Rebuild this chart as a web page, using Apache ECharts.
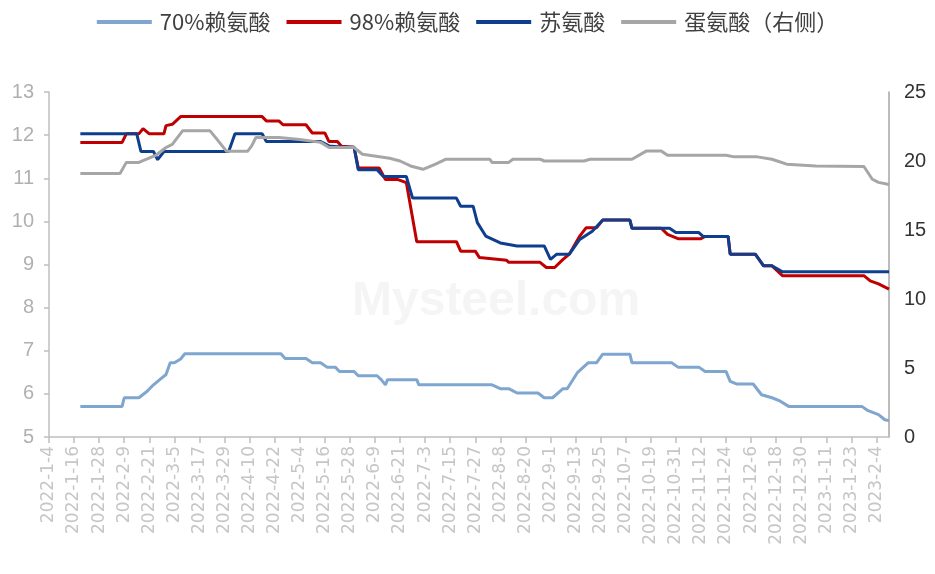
<!DOCTYPE html>
<html>
<head>
<meta charset="utf-8">
<script src="https://cdn.jsdelivr.net/npm/echarts@6/dist/echarts.min.js"></script>
<style>
html,body{margin:0;padding:0;background:#fff;}
#chart{width:935px;height:574px;}
</style>
</head>
<body>
<div id="chart"></div>
<script>
// Category axis: daily dates from 2022-1-4 to 2023-2-10
const startDate = [2022, 1, 4];
const endDate = [2023, 2, 10];
const categories = [];
(function () {
  let t = Date.UTC(startDate[0], startDate[1] - 1, startDate[2]);
  const e = Date.UTC(endDate[0], endDate[1] - 1, endDate[2]);
  while (t <= e) {
    const d = new Date(t);
    categories.push(d.getUTCFullYear() + '-' + (d.getUTCMonth() + 1) + '-' + d.getUTCDate());
    t += 86400000;
  }
})();

const seriesNames = ['70%赖氨酸', '98%赖氨酸', '苏氨酸', '蛋氨酸（右侧）'];
const leftTicks = [5, 13, 1];   // min, max, interval
const rightTicks = [0, 25, 5];

const lys70 = [
  ['2022-1-19', 5.71], ['2022-2-8', 5.71], ['2022-2-9', 5.91], ['2022-2-16', 5.91],
  ['2022-2-20', 6.06], ['2022-2-23', 6.21], ['2022-2-26', 6.33], ['2022-3-1', 6.45],
  ['2022-3-3', 6.72], ['2022-3-5', 6.72], ['2022-3-8', 6.81], ['2022-3-10', 6.93],
  ['2022-4-25', 6.93], ['2022-4-27', 6.82], ['2022-5-7', 6.82], ['2022-5-10', 6.72],
  ['2022-5-14', 6.72], ['2022-5-17', 6.62], ['2022-5-21', 6.62], ['2022-5-23', 6.52],
  ['2022-5-30', 6.52], ['2022-6-1', 6.42], ['2022-6-10', 6.42], ['2022-6-12', 6.33],
  ['2022-6-14', 6.21], ['2022-6-15', 6.33], ['2022-6-29', 6.33], ['2022-6-30', 6.21],
  ['2022-8-4', 6.21], ['2022-8-8', 6.12], ['2022-8-12', 6.12], ['2022-8-16', 6.02],
  ['2022-8-26', 6.02], ['2022-8-29', 5.91], ['2022-9-2', 5.91], ['2022-9-7', 6.12],
  ['2022-9-9', 6.12], ['2022-9-14', 6.5], ['2022-9-19', 6.72], ['2022-9-23', 6.72],
  ['2022-9-26', 6.92], ['2022-10-9', 6.92], ['2022-10-10', 6.72], ['2022-10-29', 6.72],
  ['2022-11-1', 6.62], ['2022-11-11', 6.62], ['2022-11-14', 6.52], ['2022-11-24', 6.52],
  ['2022-11-26', 6.29], ['2022-11-29', 6.23], ['2022-12-7', 6.23], ['2022-12-11', 5.98],
  ['2022-12-16', 5.91], ['2022-12-20', 5.83], ['2022-12-24', 5.71], ['2023-1-28', 5.71],
  ['2023-1-31', 5.61], ['2023-2-5', 5.52], ['2023-2-8', 5.4], ['2023-2-10', 5.38]
];

const lys98 = [
  ['2022-1-19', 11.83], ['2022-2-8', 11.83], ['2022-2-10', 12.03], ['2022-2-16', 12.03],
  ['2022-2-18', 12.15], ['2022-2-21', 12.03], ['2022-2-28', 12.03], ['2022-3-1', 12.22],
  ['2022-3-4', 12.25], ['2022-3-8', 12.43], ['2022-4-16', 12.43], ['2022-4-18', 12.33],
  ['2022-4-24', 12.33], ['2022-4-26', 12.24], ['2022-5-7', 12.24], ['2022-5-10', 12.05],
  ['2022-5-16', 12.05], ['2022-5-18', 11.85], ['2022-5-22', 11.85], ['2022-5-24', 11.74],
  ['2022-5-30', 11.72], ['2022-6-1', 11.24], ['2022-6-11', 11.24], ['2022-6-14', 10.97],
  ['2022-6-20', 10.97], ['2022-6-24', 10.9], ['2022-6-29', 9.53], ['2022-7-18', 9.53],
  ['2022-7-20', 9.31], ['2022-7-27', 9.31], ['2022-7-29', 9.16], ['2022-8-11', 9.1],
  ['2022-8-12', 9.05], ['2022-8-27', 9.05], ['2022-8-30', 8.93], ['2022-9-3', 8.93],
  ['2022-9-7', 9.12], ['2022-9-10', 9.24], ['2022-9-15', 9.66], ['2022-9-18', 9.85],
  ['2022-9-23', 9.85], ['2022-9-26', 10.03], ['2022-10-9', 10.03], ['2022-10-10', 9.84],
  ['2022-10-24', 9.84], ['2022-10-27', 9.7], ['2022-11-1', 9.6], ['2022-11-12', 9.6],
  ['2022-11-14', 9.65], ['2022-11-25', 9.65], ['2022-11-26', 9.24], ['2022-12-8', 9.24],
  ['2022-12-12', 8.97], ['2022-12-16', 8.97], ['2022-12-21', 8.74], ['2023-1-29', 8.74],
  ['2023-2-1', 8.62], ['2023-2-5', 8.55], ['2023-2-10', 8.43]
];

const threonine = [
  ['2022-1-19', 12.03], ['2022-2-15', 12.03], ['2022-2-17', 11.62], ['2022-2-23', 11.62],
  ['2022-2-25', 11.43], ['2022-2-28', 11.62], ['2022-3-31', 11.62], ['2022-4-3', 12.03],
  ['2022-4-16', 12.03], ['2022-4-18', 11.85], ['2022-5-14', 11.85], ['2022-5-18', 11.75],
  ['2022-5-25', 11.72], ['2022-5-30', 11.72], ['2022-6-1', 11.2], ['2022-6-10', 11.2],
  ['2022-6-13', 11.04], ['2022-6-24', 11.04], ['2022-6-27', 10.54], ['2022-7-18', 10.54],
  ['2022-7-20', 10.35], ['2022-7-26', 10.35], ['2022-7-28', 9.97], ['2022-8-1', 9.66],
  ['2022-8-8', 9.5], ['2022-8-16', 9.43], ['2022-8-29', 9.43], ['2022-9-1', 9.12],
  ['2022-9-4', 9.24], ['2022-9-10', 9.24], ['2022-9-15', 9.58], ['2022-9-21', 9.77],
  ['2022-9-26', 10.03], ['2022-10-9', 10.03], ['2022-10-10', 9.84], ['2022-10-28', 9.84],
  ['2022-10-31', 9.74], ['2022-11-11', 9.74], ['2022-11-13', 9.65], ['2022-11-25', 9.65],
  ['2022-11-26', 9.24], ['2022-12-8', 9.24], ['2022-12-12', 8.97], ['2022-12-16', 8.97],
  ['2022-12-21', 8.83], ['2023-2-10', 8.83]
];

const methionine = [
  ['2022-1-19', 19.09], ['2022-2-7', 19.09], ['2022-2-10', 19.9], ['2022-2-16', 19.9],
  ['2022-2-24', 20.4], ['2022-3-1', 20.98], ['2022-3-4', 21.2], ['2022-3-9', 22.2],
  ['2022-3-22', 22.2], ['2022-3-26', 21.46], ['2022-3-30', 20.7], ['2022-4-9', 20.7],
  ['2022-4-11', 21.1], ['2022-4-13', 21.7], ['2022-4-24', 21.7], ['2022-5-4', 21.55],
  ['2022-5-14', 21.35], ['2022-5-18', 20.98], ['2022-5-30', 20.98], ['2022-6-3', 20.49],
  ['2022-6-16', 20.2], ['2022-6-21', 20.0], ['2022-6-26', 19.64], ['2022-7-2', 19.4],
  ['2022-7-8', 19.77], ['2022-7-13', 20.13], ['2022-8-3', 20.13], ['2022-8-4', 19.9],
  ['2022-8-12', 19.9], ['2022-8-14', 20.13], ['2022-8-27', 20.13], ['2022-8-29', 20.0],
  ['2022-9-17', 20.0], ['2022-9-20', 20.13], ['2022-10-10', 20.13], ['2022-10-17', 20.73],
  ['2022-10-24', 20.73], ['2022-10-27', 20.42], ['2022-11-24', 20.42], ['2022-11-28', 20.3],
  ['2022-12-9', 20.3], ['2022-12-16', 20.13], ['2022-12-23', 19.77], ['2023-1-6', 19.64],
  ['2023-1-29', 19.6], ['2023-2-2', 18.68], ['2023-2-5', 18.45], ['2023-2-10', 18.3]
];

const colors = ['#7FA6CF', '#C00000', '#0E3F8E', '#A6A6A6'];

const chart = echarts.init(document.getElementById('chart'));
const lineSeries = (name, data, color, yAxisIndex) => ({
  name: name,
  type: 'line',
  data: data,
  yAxisIndex: yAxisIndex,
  showSymbol: false,
  symbol: 'none',
  lineStyle: { width: 3, color: color },
  itemStyle: { color: color },
  emphasis: { disabled: true },
  animation: false
});

chart.setOption({
  animation: false,
  backgroundColor: '#fff',
  legend: {
    top: 6,
    left: 'center',
    icon: 'rect',
    itemWidth: 55,
    itemHeight: 4,
    itemGap: 16,
    textStyle: { fontFamily: 'Noto Sans CJK SC', fontSize: 22, color: '#404040', padding: [0, 0, 0, 3] },
    data: seriesNames
  },
  graphic: [{
    type: 'text',
    left: 352,
    top: 278,
    z: -1,
    style: { text: 'Mysteel.com', font: 'bold 48px Liberation Sans', fill: '#f5f5f5' }
  }],
  grid: { left: 49, right: 46, top: 92, bottom: 137, containLabel: false },
  xAxis: {
    type: 'category',
    data: categories,
    boundaryGap: false,
    axisLine: { lineStyle: { color: '#bfbfbf', width: 1.5 } },
    axisTick: { show: true, interval: 11, length: 6, lineStyle: { color: '#bfbfbf', width: 1.5 } },
    axisLabel: {
      interval: 11,
      rotate: 90,
      margin: 9,
      color: '#c6c6c6',
      fontFamily: 'DejaVu Sans',
      fontSize: 17
    },
    splitLine: { show: false }
  },
  yAxis: [{
    type: 'value',
    min: leftTicks[0],
    max: leftTicks[1],
    interval: leftTicks[2],
    axisLine: { show: true, lineStyle: { color: '#bfbfbf', width: 1.5 } },
    axisTick: { show: true, length: 5, lineStyle: { color: '#bfbfbf', width: 1.5 } },
    axisLabel: { color: '#b0b0b0', fontSize: 20, fontFamily: 'Liberation Sans', margin: 15 },
    splitLine: { show: false }
  }, {
    type: 'value',
    min: rightTicks[0],
    max: rightTicks[1],
    interval: rightTicks[2],
    position: 'right',
    axisLine: { show: true, lineStyle: { color: '#a6a6a6', width: 1.5 } },
    axisTick: { show: false },
    axisLabel: { color: '#333', fontSize: 20, fontFamily: 'Liberation Sans', margin: 15 },
    splitLine: { show: false }
  }],
  series: [
    lineSeries(seriesNames[0], lys70, colors[0], 0),
    lineSeries(seriesNames[1], lys98, colors[1], 0),
    lineSeries(seriesNames[2], threonine, colors[2], 0),
    lineSeries(seriesNames[3], methionine, colors[3], 1)
  ]
});
</script>
</body>
</html>
